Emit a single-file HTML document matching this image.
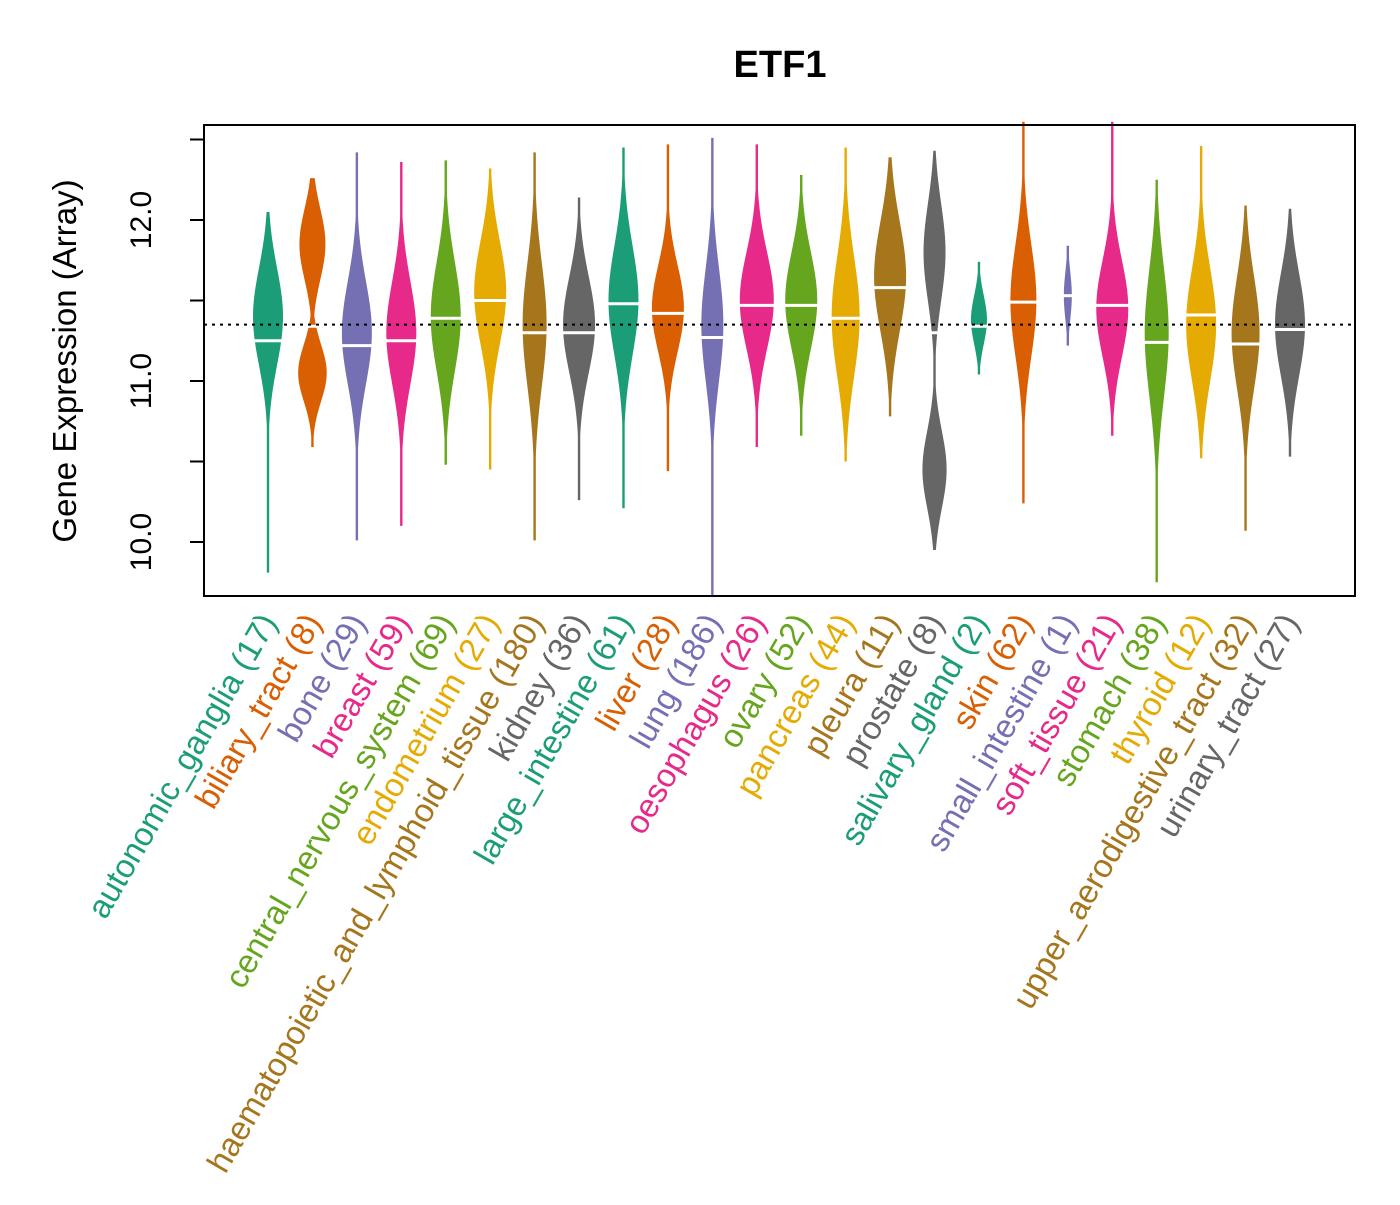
<!DOCTYPE html>
<html><head><meta charset="utf-8"><style>
html,body{margin:0;padding:0;background:#fff;}
svg text{font-family:"Liberation Sans",Arial,sans-serif;}
</style></head><body>
<svg id="chart" width="1400" height="1200" viewBox="0 0 1400 1200" xmlns="http://www.w3.org/2000/svg">
<rect width="1400" height="1200" fill="#fff"/>
<text x="780" y="77" font-size="38" font-weight="bold" text-anchor="middle">ETF1</text>
<text transform="translate(76,361) rotate(-90)" font-size="33" text-anchor="middle">Gene Expression (Array)</text>
<g id="plot"></g>
<rect x="204" y="125" width="1151" height="471" fill="none" stroke="#000" stroke-width="2"/>
</svg>
<script>
const categories = ["autonomic_ganglia (17)","biliary_tract (8)","bone (29)","breast (59)","central_nervous_system (69)","endometrium (27)","haematopoietic_and_lymphoid_tissue (180)","kidney (36)","large_intestine (61)","liver (28)","lung (186)","oesophagus (26)","ovary (52)","pancreas (44)","pleura (11)","prostate (8)","salivary_gland (2)","skin (62)","small_intestine (1)","soft_tissue (21)","stomach (38)","thyroid (12)","upper_aerodigestive_tract (32)","urinary_tract (27)"];
const minVals = [9.81,10.59,10.01,10.10,10.48,10.45,10.01,10.26,10.21,10.44,9.66,10.59,10.66,10.50,10.78,9.95,11.04,10.24,11.22,10.66,9.75,10.52,10.07,10.53];
const maxVals = [12.05,12.26,12.42,12.36,12.37,12.32,12.42,12.14,12.45,12.47,12.51,12.47,12.28,12.45,12.39,12.43,11.74,12.61,11.84,12.61,12.25,12.46,12.09,12.07];
const medians = [11.25,11.34,11.22,11.25,11.39,11.50,11.30,11.30,11.48,11.42,11.27,11.47,11.47,11.39,11.58,11.30,11.34,11.49,11.53,11.47,11.24,11.41,11.23,11.32];
const modes = [11.40,11.85,11.30,11.30,11.40,11.55,11.35,11.35,11.50,11.45,11.35,11.50,11.50,11.40,11.65,11.80,11.38,11.50,11.53,11.45,11.30,11.35,11.30,11.35];
const spreads = [0.30,0.22,0.32,0.32,0.34,0.32,0.38,0.30,0.34,0.27,0.35,0.30,0.30,0.37,0.34,0.30,0.15,0.35,0.15,0.30,0.40,0.35,0.35,0.32];
const peakWidths = [15,13,15,15,15,16,12,16,15,16,11,17,16,14,16,11,8,13,4,16,12,15,14,15];
const secondModes = [null,11.05,null,null,null,null,null,null,null,null,null,null,null,null,null,10.45,null,null,null,null,null,null,null,null];
const grandMean = 11.35;
const yTicks = [10.0,10.5,11.0,11.5,12.0,12.5];
const yTickLabels = ["10.0","","11.0","","12.0",""];
const colors = ["#1B9E77","#D95F02","#7570B3","#E7298A","#66A61E","#E6AB02","#A6761D","#666666"];

const NS="http://www.w3.org/2000/svg";
const svg=document.getElementById('chart');
const g=document.getElementById('plot');
const yS=v=>542-(v-10)*161;
const xS=i=>268+i*(1290-268)/(categories.length-1);
function mk(t,a,p){const e=document.createElementNS(NS,t);for(const k in a)e.setAttribute(k,a[k]);(p||g).appendChild(e);return e;}

const ax=mk('line',{x1:204,x2:204,y1:yS(10),y2:yS(12.5),stroke:'#000','stroke-width':2},svg);


yTicks.forEach((t,k)=>{
  const tk=mk('line',{x1:190,x2:204,y1:yS(t),y2:yS(t),stroke:'#000','stroke-width':2},svg);
  
  
  if(yTickLabels[k]){
    const tl=mk('text',{transform:`translate(151,${yS(t)}) rotate(-90)`,'font-size':30,'text-anchor':'middle'},svg);
    tl.textContent=yTickLabels[k];
    
    
  }
});

categories.forEach((c,i)=>{
  const col=colors[i%8], cx=xS(i);
  const lo=minVals[i], hi=maxVals[i];
  const W=peakWidths[i], m=modes[i], s=spreads[i], m2=secondModes[i];
  const wf=v=>{let w=W*Math.exp(-0.5*((v-m)/s)**2);
    if(m2!==null) w=Math.max(w,W*1.1*Math.exp(-0.5*((v-m2)/(s*0.8))**2));
    return Math.max(w,1.2);};
  const N=80;let R=[],L=[];
  for(let k=0;k<=N;k++){const v=lo+(hi-lo)*k/N;const y=yS(v),w=wf(v);R.push(`${cx+w},${y}`);L.unshift(`${cx-w},${y}`);}
  const bean=mk('polygon',{points:R.concat(L).join(' '),fill:col});
  
  
  const mw=W*1.15;
  const med=mk('line',{x1:cx-mw,x2:cx+mw,y1:yS(medians[i]),y2:yS(medians[i]),stroke:'#fff','stroke-width':3});
  
  
  const lab=mk('text',{transform:`translate(${cx+10},${622}) rotate(-60)`,'font-size':33,'text-anchor':'end',fill:col},svg);
  lab.textContent=c;
  
  
});
const ml=mk('line',{x1:204,x2:1355,y1:yS(grandMean),y2:yS(grandMean),stroke:'#000','stroke-width':2,'stroke-dasharray':'3,5'});


</script>
</body></html>
